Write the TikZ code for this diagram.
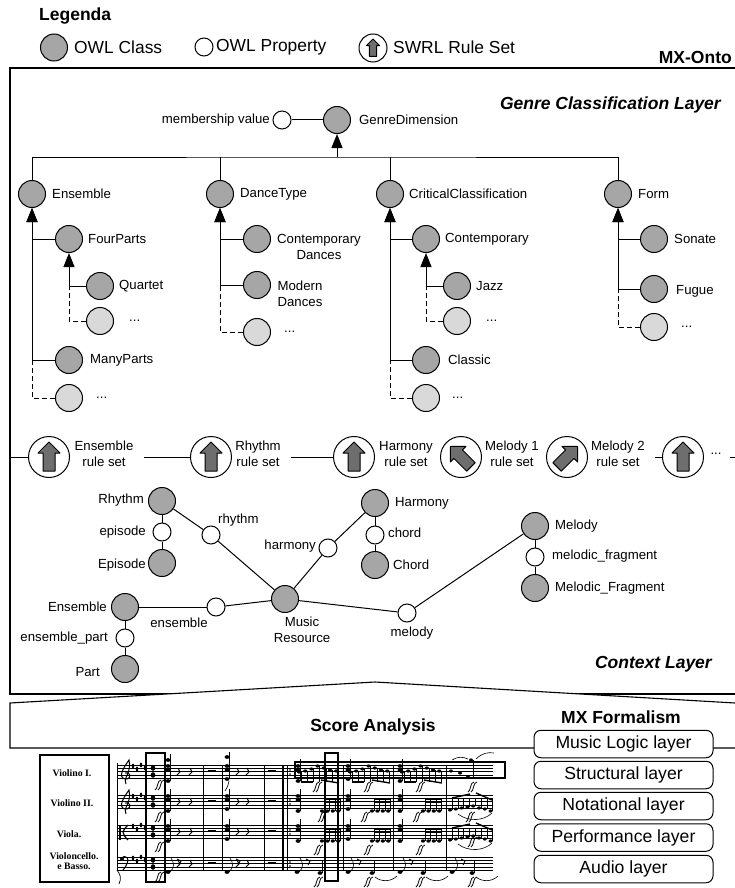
\documentclass[tikz,border=0pt]{standalone}
\usepackage{fontspec}
\setmainfont{Liberation Sans}
\newfontfamily\scorefont{Liberation Serif}
\usetikzlibrary{arrows.meta}
\definecolor{classgrey}{HTML}{A6A6A6}
\definecolor{pendinggrey}{HTML}{D9D9D9}
\definecolor{rulegrey}{HTML}{6E6E6E}
\newcommand{\tagsize}{\fontsize{13.2}{16}\selectfont}
\newcommand{\moretag}{{.}{.}{.}}

\begin{document}
\begin{tikzpicture}[
  x=1pt,
  y=-1pt,
  every node/.style={font=\tagsize, text=black},
  owlclass/.style={draw, circle, fill=classgrey, line width=1pt, minimum size=27pt, inner sep=0pt},
  pending/.style={owlclass, fill=pendinggrey},
  owlprop/.style={draw, circle, fill=white, line width=1pt, minimum size=18pt, inner sep=0pt},
  ruleset/.style={draw, circle, fill=white, line width=1pt, minimum size=41pt, inner sep=0pt},
  tag/.style={inner sep=0pt, align=center},
  ruletag/.style={tag, inner xsep=10pt},
  heading/.style={inner sep=0pt, font=\fontsize{17.5}{20}\selectfont\bfseries},
  legendtag/.style={inner sep=0pt, font=\fontsize{17.4}{20}\selectfont},
  layername/.style={inner sep=0pt, font=\fontsize{17.5}{20}\selectfont\bfseries\itshape},
  layerbox/.style={draw, fill=white, rounded corners=7pt, line width=1pt, minimum width=179pt, minimum height=27.5pt, inner sep=0pt, font=\fontsize{17.6}{20}\selectfont},
  outline/.style={line width=1.1pt},
  link/.style={line width=1pt},
  isa/.style={link, -{Triangle[length=14pt, width=11pt]}},
  later/.style={link, dash pattern=on 5pt off 3pt},
  staffline/.style={line width=0.4pt},
  barline/.style={line width=0.7pt},
  stemline/.style={line width=0.6pt},
  beamline/.style={line width=1.4pt},
  forte/.style={line width=0.8pt},
  markbox/.style={line width=2.3pt},
  scorename/.style={inner sep=0pt, align=center, font=\fontsize{9.8}{10.5}\selectfont\scorefont\bfseries},
  pics/rulearrow/.style={code={
    \draw[fill=rulegrey, line width=1pt, line join=round]
      (0,-15) -- (11,-4) -- (6,-4) -- (6,14) -- (-6,14) -- (-6,-4) -- (-11,-4) -- cycle;
  }}
]
  \useasboundingbox (0,0) rectangle (735,888);

  % ---- legend ----------------------------------------------------------
  \node[heading, anchor=west] (legend) at (39,16) {Legenda};
  \node[owlclass] (legendclass) at (54,47.5) {};
  \node[owlprop] (legendprop) at (204,47) {};
  \node[ruleset, minimum size=28pt] (legendrule) at (373,48) {};
  \pic[scale=0.6] at (legendrule) {rulearrow};
  \node[legendtag, anchor=west] (legendclasstag) at (74,47) {OWL Class};
  \node[legendtag, anchor=west] (legendproptag) at (216,47) {OWL Property};
  \node[legendtag, anchor=west] (legendruletag) at (393,47) {SWRL Rule Set};
  \node[heading, anchor=east] (ontotitle) at (732,57) {MX-Onto};

  % ---- layer outlines: the score band sits over the ontology box
  \draw[outline] (735,68) -- (10,68) -- (10,694) -- (735,694);
  \draw[outline, fill=white] (735,703) -- (375,682) -- (10,703) -- (10,748) -- (735,748);
  \node[layername, anchor=east] (genrelayer) at (721,105) {Genre Classification Layer};
  \node[layername, anchor=east] (contextlayer) at (712,664) {Context Layer};

  % ---- genre classes ---------------------------------------------------
  \foreach \name/\x/\y in {genre/337/120, ensemble/32/194, dancetype/220/194,
      critical/390/194, form/618/194, fourparts/69/239, quartet/100/286,
      manyparts/69/360, contemporarydances/257/239, moderndances/257/285,
      contemporary/426/239, jazz/457/286, classic/426/360, sonate/654/239, fugue/654/289}
    \node[owlclass] (\name) at (\x,\y) {};
  \foreach \name/\x/\y in {quartetdots/100/321, ensembledots/69/398, dancedots/257/332,
      jazzdots/457/321, classicdots/426/398, formdots/654/327}
    \node[pending] (\name) at (\x,\y) {};
  \node[owlprop] (membership) at (282,120) {};

  \foreach \name/\x/\y/\txt in {genre/359/120/GenreDimension, ensemble/52/194/Ensemble,
      dancetype/240/194/DanceType, critical/409/194/CriticalClassification, form/638/194/Form,
      fourparts/88/239/FourParts, quartet/119/286/Quartet, manyparts/90/360/ManyParts,
      contemporary/445/239/Contemporary, jazz/476/286/Jazz, classic/448/360/Classic,
      sonate/674/239/Sonate, fugue/676/291/Fugue, quartetdots/129/321/\moretag, ensembledots/96/398/\moretag,
      dancedots/284/332/\moretag, jazzdots/486/321/\moretag, classicdots/452/398/\moretag, formdots/681/327/\moretag}
    \node[tag, anchor=west] (\name tag) at (\x,\y) {\txt};
  \node[tag] (contemporarydancestag) at (319,247) {Contemporary\\Dances};
  \node[tag] (moderndancestag) at (300,294) {Modern\\Dances};
  \node[tag, anchor=east] (membershiptag) at (270,120) {membership value};

  % ---- genre hierarchy -------------------------------------------------
  \coordinate (fork) at (337,157);
  \draw[link] (membership) -- (genre);
  \draw[isa] (fork) -- (genre.south);
  \draw[link] (ensemble.north) |- (fork) -| (form.north);
  \draw[link] (dancetype.north) -- (dancetype.north |- fork);
  \draw[link] (critical.north) -- (critical.north |- fork);
  \foreach \parent/\child in {ensemble/fourparts, ensemble/manyparts, fourparts/quartet,
      dancetype/contemporarydances, dancetype/moderndances, critical/contemporary,
      critical/classic, contemporary/jazz, form/sonate, form/fugue}
    \draw[isa] (\child.west) -| (\parent.south);
  \foreach \parent/\child/\extra in {ensemble/manyparts/ensembledots, fourparts/quartet/quartetdots,
      dancetype/moderndances/dancedots, critical/classic/classicdots,
      contemporary/jazz/jazzdots, form/fugue/formdots}
    \draw[later] (\extra.west) -| (\parent.south |- \child.west);

  % ---- rule sets -------------------------------------------------------
  \foreach \name/\x/\turn in {ensemblerule/49/0, rhythmrule/211/0, harmonyrule/354/0,
      melodyonerule/461/45, melodytworule/567/-45, morerule/683/0} {
    \node[ruleset] (\name) at (\x,457) {};
    \pic[rotate=\turn] at (\name) {rulearrow};
  }
  \node[ruletag] (ensembleruletag) at (104,454) {Ensemble\\rule set};
  \node[ruletag] (rhythmruletag) at (258,454) {Rhythm\\rule set};
  \node[ruletag] (harmonyruletag) at (406,454) {Harmony\\rule set};
  \node[ruletag] (melodyoneruletag) at (512,454) {Melody 1\\rule set};
  \node[ruletag] (melodytworuletag) at (618,454) {Melody 2\\rule set};
  \node[tag] (moreruletag) at (716,454) {\moretag};
  \coordinate (ruleleft) at (10,457);
  \coordinate (rulestub) at (730,457);
  \coordinate (ruleright) at (735,457);
  \draw[link] (ruleleft) -- (ensemblerule);
  \draw[link] (ensembleruletag.east |- rhythmrule.west) -- (rhythmrule.west);
  \draw[link] (rhythmruletag.east |- harmonyrule.west) -- (harmonyrule.west);
  \draw[link] (melodytworuletag.east |- morerule.west) -- (morerule.west);
  \draw[link] (rulestub) -- (ruleright);

  % ---- context classes and properties ----------------------------------
  \foreach \name/\x/\y in {rhythm/162/501, episode/162/563, harmony/375/503, chord/375/565,
      melody/535/526, fragment/535/588, resource/285/599, band/125/607, part/125/669}
    \node[owlclass] (\name) at (\x,\y) {};
  \foreach \name/\x/\y in {hasepisode/162/532, hasrhythm/211/535, haschord/375/535,
      hasharmony/328/548, hasfragment/535/557, hasmelody/407/613, hasband/216/607, haspart/125/638}
    \node[owlprop] (\name) at (\x,\y) {};
  \foreach \name/\x/\y/\txt in {harmony/395/503/Harmony, haschord/388/533/chord, chord/393/565/Chord,
      melody/555/526/Melody, hasfragment/552/556/melodic\_fragment, fragment/555/588/Melodic\_Fragment}
    \node[tag, anchor=west] (\name tag) at (\x,\y) {\txt};
  \foreach \name/\x/\y/\txt in {rhythm/144/500/Rhythm, hasepisode/146/532/episode, episode/146/565/Episode,
      hasharmony/316/546/harmony, band/107/607/Ensemble, haspart/108/638/ensemble\_part, part/100/672/Part}
    \node[tag, anchor=east] (\name tag) at (\x,\y) {\txt};
  \node[tag, anchor=west] (hasrhythmtag) at (218,520) {rhythm};
  \node[tag] (resourcetag) at (302,630) {Music\\Resource};
  \node[tag] (hasmelodytag) at (412,633) {melody};
  \node[tag] (hasbandtag) at (179,623) {ensemble};

  \foreach \from/\to in {rhythm/hasepisode, hasepisode/episode, rhythm/hasrhythm, hasrhythm/resource,
      harmony/hasharmony, hasharmony/resource, harmony/haschord, haschord/chord,
      melody/hasmelody, hasmelody/resource, melody/hasfragment, hasfragment/fragment,
      band/hasband, hasband/resource, band/haspart, haspart/part}
    \draw[link] (\from) -- (\to);

  % ---- score excerpt ---------------------------------------------------
  \foreach \top in {765,795,825,857} {
    \foreach \i in {0,...,4}
      \draw[staffline] (117,{\top+\i*3.3}) -- (493,{\top+\i*3.3});
    % key, time signature
    \foreach \x/\h in {133/1,137/4,141/0,145/3}
      \fill (\x,{\top+\h}) ellipse [x radius=1.3, y radius=2.4];
    \foreach \y in {3,10}
      \fill (153,{\top+\y}) ellipse [x radius=2.3, y radius=2.8];
    % rests of the opening bars
    \foreach \x in {178,190,237,247}
      \draw[line width=0.9pt] (\x,{\top+3}) -- ({\x+2},{\top+7}) -- ({\x-1},{\top+10});
    \fill (208,{\top+5}) rectangle (216,{\top+7});
    \fill (268,{\top+5}) rectangle (276,{\top+7});
    \foreach \y in {5,9} {
      \fill (290,{\top+\y}) circle [radius=0.9];
    }
  }
  % ---- clefs
  \foreach \top in {765,795}
    \draw[line width=1pt] (126,{\top+19}) .. controls (122,{\top+14}) and (132,{\top+8}) .. (129,{\top-5})
      .. controls (121,{\top+6}) and (118,{\top+14}) .. (127,{\top+14})
      .. controls (132,{\top+13}) and (130,{\top+6}) .. (125,{\top+8});
  \draw[line width=1.3pt] (120,825) -- (120,840);
  \draw[line width=1.2pt] (128,825) .. controls (124,829) and (124,830) .. (123,832) .. controls (124,835) and (124,836) .. (128,840);
  \fill (122,859) circle [radius=2];
  \draw[line width=1pt] (121,859) .. controls (125,853) and (133,858) .. (123,870);
  % ---- bar lines across the system
  \foreach \x in {203,222,264,343,393,446}
    \draw[barline] (\x,765) -- (\x,870);
  \draw[line width=2pt] (283,765) -- (283,870);
  \draw[barline] (287,765) -- (287,870);
  \draw[barline] (117,763) -- (117,870);
  \draw[barline] (117,870) .. controls (120,874) and (122,878) .. (119,884);

  % ---- the struck chords of the upper three staves
  \foreach \top in {765,795,825} {
    \foreach \x/\low in {168/16,227/14,298/16,348/14,400/16} {
      \foreach \y in {1,5,\low}
        \fill (\x,{\top+\y}) ellipse [x radius=2.4, y radius=1.9];
      \draw[stemline] ({\x+2},{\top-6}) -- ({\x+2},{\top+\low});
    }
  }
  \fill (168,760) ellipse [x radius=2.4, y radius=1.9];
  \fill (227,757) ellipse [x radius=2.4, y radius=1.9];
  \draw[stemline] (170,754) -- (170,765);
  \draw[stemline] (229,752) -- (229,765);
  \draw[stemline] (229,781) .. controls (228,786) and (227,788) .. (225,791);

  % ---- the running notes of the first violins
  \foreach \m in {299,350,402} {
    \foreach \i/\h in {0/772,1/771,2/769,3/766,4/768,5/770,6/771} {
      \fill ({\m+\i*6.2},\h) ellipse [x radius=2.1, y radius=1.6];
      \draw[stemline] ({\m+2+\i*6.2},\h) -- ({\m+2+\i*6.2},782);
    }
    \draw[beamline] ({\m+2},782) -- ({\m+14},782);
    \draw[beamline] ({\m+22},780) -- ({\m+40},783);
  }
  \fill (451,771) ellipse [x radius=2, y radius=1.6];
  \fill (460,773) ellipse [x radius=2, y radius=1.6];
  \fill (468,777) ellipse [x radius=2, y radius=1.6];
  \fill (471,760) ellipse [x radius=2, y radius=1.6];
  \draw[stemline] (473,760) -- (473,777);
  \draw[stemline] (452,760) .. controls (458,756) and (464,757) .. (468,759);
  \draw[stemline] (476,759) .. controls (482,753) and (488,752) .. (494,753);

  % ---- repeated notes of the second violins and violas
  \foreach \top in {795,825} {
    \foreach \m in {322,372,423} {
      \foreach \i in {0,...,3} {
        \fill ({\m+\i*5.4},{\top+16}) ellipse [x radius=2.1, y radius=1.7];
        \draw[stemline] ({\m+2+\i*5.4},{\top+16}) -- ({\m+2+\i*5.4},{\top+4});
      }
      \draw[beamline] ({\m+2},{\top+4}) -- ({\m+18},{\top+4});
      \draw[beamline] ({\m+2},{\top+7}) -- ({\m+18},{\top+7});
    }
    \foreach \i/\h in {0/15,1/14,2/13,3/12,4/11,5/13,6/14,7/16} {
      \fill ({450+\i*5.8},{\top+\h}) ellipse [x radius=2, y radius=1.6];
      \draw[stemline] ({452+\i*5.8},{\top+\h}) -- ({452+\i*5.8},{\top+3});
    }
    \draw[beamline] (452,{\top+3}) -- (470,{\top-1});
    \draw[beamline] (476,{\top-2}) -- (492,{\top+5});
    \draw[stemline] (458,{\top+19}) .. controls (468,{\top+27}) and (484,{\top+26}) .. (492,{\top+18});
  }
  % ---- the bass line
  \foreach \x in {168,227,297,348,400,452} {
    \fill (\x,872) ellipse [x radius=2.4, y radius=1.9];
    \draw[stemline] ({\x+2},872) .. controls ({\x+7},868) and ({\x+6},862) .. ({\x+3},858);
    \draw[line width=0.9pt] ({\x+9},859) -- ({\x+13},861) -- ({\x+11},865);
  }
  \foreach \x in {320,372,423,472} {
    \fill (\x,873) ellipse [x radius=2.4, y radius=1.9];
    \draw[stemline] ({\x+2},873) -- ({\x+2},860);
  }
  \foreach \x in {375,426,476}
    \draw[stemline] (\x,877) .. controls ({\x+6},882) and ({\x+16},882) .. ({\x+22},876);

  % ---- sforzati
  \foreach \x/\y in {159/785, 159/817, 159/847, 159/877, 317/787, 368/787, 420/787, 472/787,
      322/817, 365/817, 417/817, 470/817, 318/850, 368/850, 420/850, 472/842, 318/882, 368/882, 420/882, 472/882} {
    \draw[forte] ({\x-4},{\y+5}) .. controls ({\x-1},{\y+4}) and ({\x-2},{\y-5}) .. ({\x+2},{\y-5});
    \draw[forte] ({\x-1},{\y+5}) .. controls ({\x+2},{\y+4}) and ({\x+1},{\y-5}) .. ({\x+5},{\y-5});
  }

  % ---- instrument names and the marked regions -------------------------
  \node[scorename] (violinone) at (72,773) {Violino I.};
  \node[scorename] (violintwo) at (72,803) {Violino II.};
  \node[scorename] (viola) at (69,834) {Viola.};
  \node[scorename] (cello) at (74,861) {Violoncello.\\e Basso.};
  \draw[markbox] (40,755) rectangle (109,882);
  \draw[markbox] (146,753) rectangle (165,882);
  \draw[markbox] (325,753) rectangle (338,881);
  \draw[markbox] (295,762) rectangle (505,778);

  % ---- formalism layers ------------------------------------------------
  \node[heading] (score) at (373,727) {Score Analysis};
  \node[heading] (formalism) at (621,717) {MX Formalism};
  \foreach \name/\y/\txt in {logiclayer/744/Music Logic layer, structurallayer/775/Structural layer,
      notationallayer/806/Notational layer, performancelayer/837.5/Performance layer, audiolayer/869/Audio layer}
    \node[layerbox] (\name) at (623.5,\y) {\txt};
\end{tikzpicture}
\end{document}
